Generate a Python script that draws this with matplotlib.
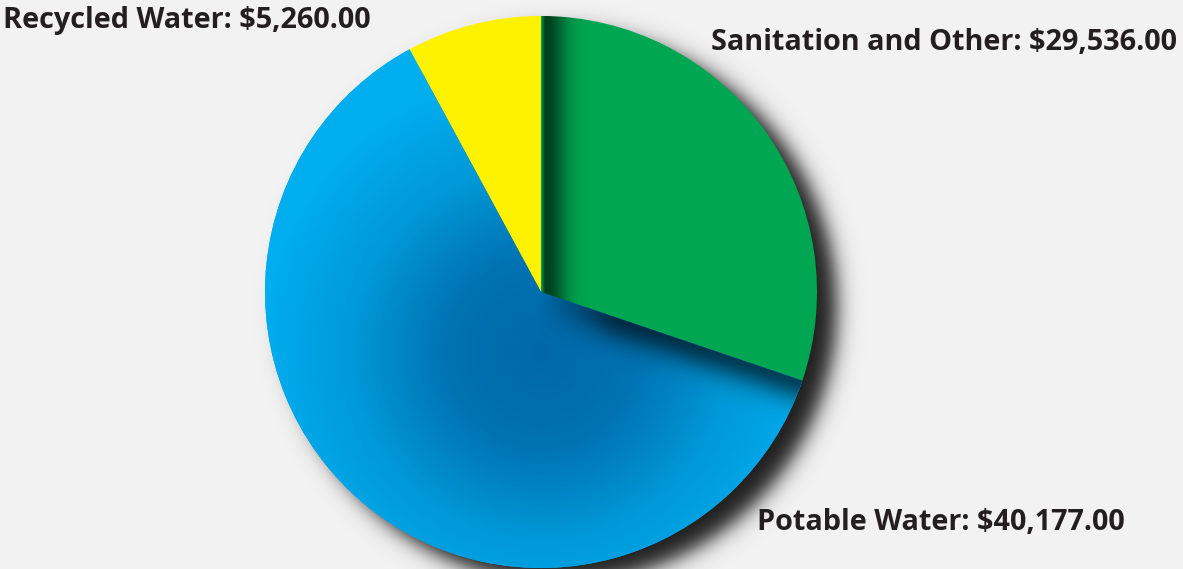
"""
plot.py - water budget pie (Sanitation / Potable / Recycled) with soft drop shadow.
Output -> out.png (1183 x 569)
"""
import matplotlib
matplotlib.use("Agg")
import matplotlib.pyplot as plt
from matplotlib.colors import LinearSegmentedColormap
import numpy as np

# ── Data ──────────────────────────────────────────────────────────────────────
LABELS  = ["Sanitation and Other", "Potable Water", "Recycled Water"]
AMOUNTS = [29536.00, 40177.00, 5260.00]
# slice shares as drawn in the picture (the artwork is not to scale with the amounts)
SHARES  = [30.2, 61.9, 7.9]
COLORS  = ["#00A651", "#00AEEF", "#FFF200"]

BG      = "#F2F2F2"
INK     = "#231F20"
W, H    = 1183, 569
CX, CY  = 541, 277          # pie centre in pixel coords (y up)
R       = 276
# label anchors (left, baseline) in pixel coords
LABEL_POS = [(711, 519), (757, 39), (3, 541)]


def main():
    fig = plt.figure(figsize=(W / 100, H / 100), dpi=100, facecolor=BG)
    ax = fig.add_axes([0, 0, 1, 1])
    ax.set_xlim(0, W)
    ax.set_ylim(0, H)
    ax.set_aspect("equal")
    ax.axis("off")

    xs = np.arange(W) + 0.5
    ys = np.arange(H) + 0.5
    X, Y = np.meshgrid(xs, ys)

    # drop shadow behind the whole pie (down-right)
    d = np.hypot(X - (CX + 20), Y - (CY - 15))
    a = 0.88 * 0.5 * (1 - np.tanh((d - R) / 12.0))
    shadow = np.zeros((H, W, 4))
    shadow[..., 3] = a
    ax.imshow(shadow, extent=(0, W, 0, H), origin="lower", zorder=0,
              interpolation="bilinear")

    wedges, _ = ax.pie(SHARES, colors=COLORS, startangle=90, counterclock=False,
                       center=(CX, CY), radius=R, frame=True,
                       wedgeprops=dict(linewidth=0))
    for w in wedges:
        w.set_zorder(1)
    ax.set_xlim(0, W)
    ax.set_ylim(0, H)
    ax.axis("off")

    # radial shading on the blue slice
    blue_cmap = LinearSegmentedColormap.from_list(
        "blue", ["#0068A8", "#0072B2", "#0098D8", "#00AEEF"])
    t = np.clip(np.hypot(X - CX, Y - (CY - 60)) / (R + 5), 0, 1) ** 1.0
    im = ax.imshow(t, cmap=blue_cmap, vmin=0, vmax=1, extent=(0, W, 0, H),
                   origin="lower", zorder=2, interpolation="bilinear")
    im.set_clip_path(wedges[1])

    # shadow cast by the green slice onto the blue one
    ang = np.deg2rad(90 - SHARES[0] * 3.6)
    ux, uy = np.cos(ang), np.sin(ang)
    s = (X - CX) * ux + (Y - CY) * uy
    p = -((X - CX) * -uy + (Y - CY) * ux)
    a2 = 0.62 * np.exp(-(np.clip(p, 0, None) / 22.0) ** 2) * np.clip(s / 80.0, 0, 1)
    sh2 = np.zeros((H, W, 4))
    sh2[..., 3] = a2
    im2 = ax.imshow(sh2, extent=(0, W, 0, H), origin="lower", zorder=3,
                    interpolation="bilinear")
    im2.set_clip_path(wedges[1])

    # shadow cast by the yellow slice onto the green one
    dx = X - CX
    a3 = 0.62 * np.exp(-(np.clip(dx - 5, 0, None) / 20.0) ** 2) * np.clip(dx / 4.0, 0, 1)
    sh3 = np.zeros((H, W, 4))
    sh3[..., 3] = a3
    im3 = ax.imshow(sh3, extent=(0, W, 0, H), origin="lower", zorder=3,
                    interpolation="bilinear")
    im3.set_clip_path(wedges[0])

    for label, amount, (lx, ly) in zip(LABELS, AMOUNTS, LABEL_POS):
        ax.text(lx, ly, f"{label}: ${amount:,.2f}", ha="left", va="baseline",
                fontsize=20.8, fontweight="bold", family="Open Sans", color=INK, zorder=5)

    fig.savefig("out.png", dpi=100, facecolor=BG)
    plt.close(fig)


if __name__ == "__main__":
    main()
